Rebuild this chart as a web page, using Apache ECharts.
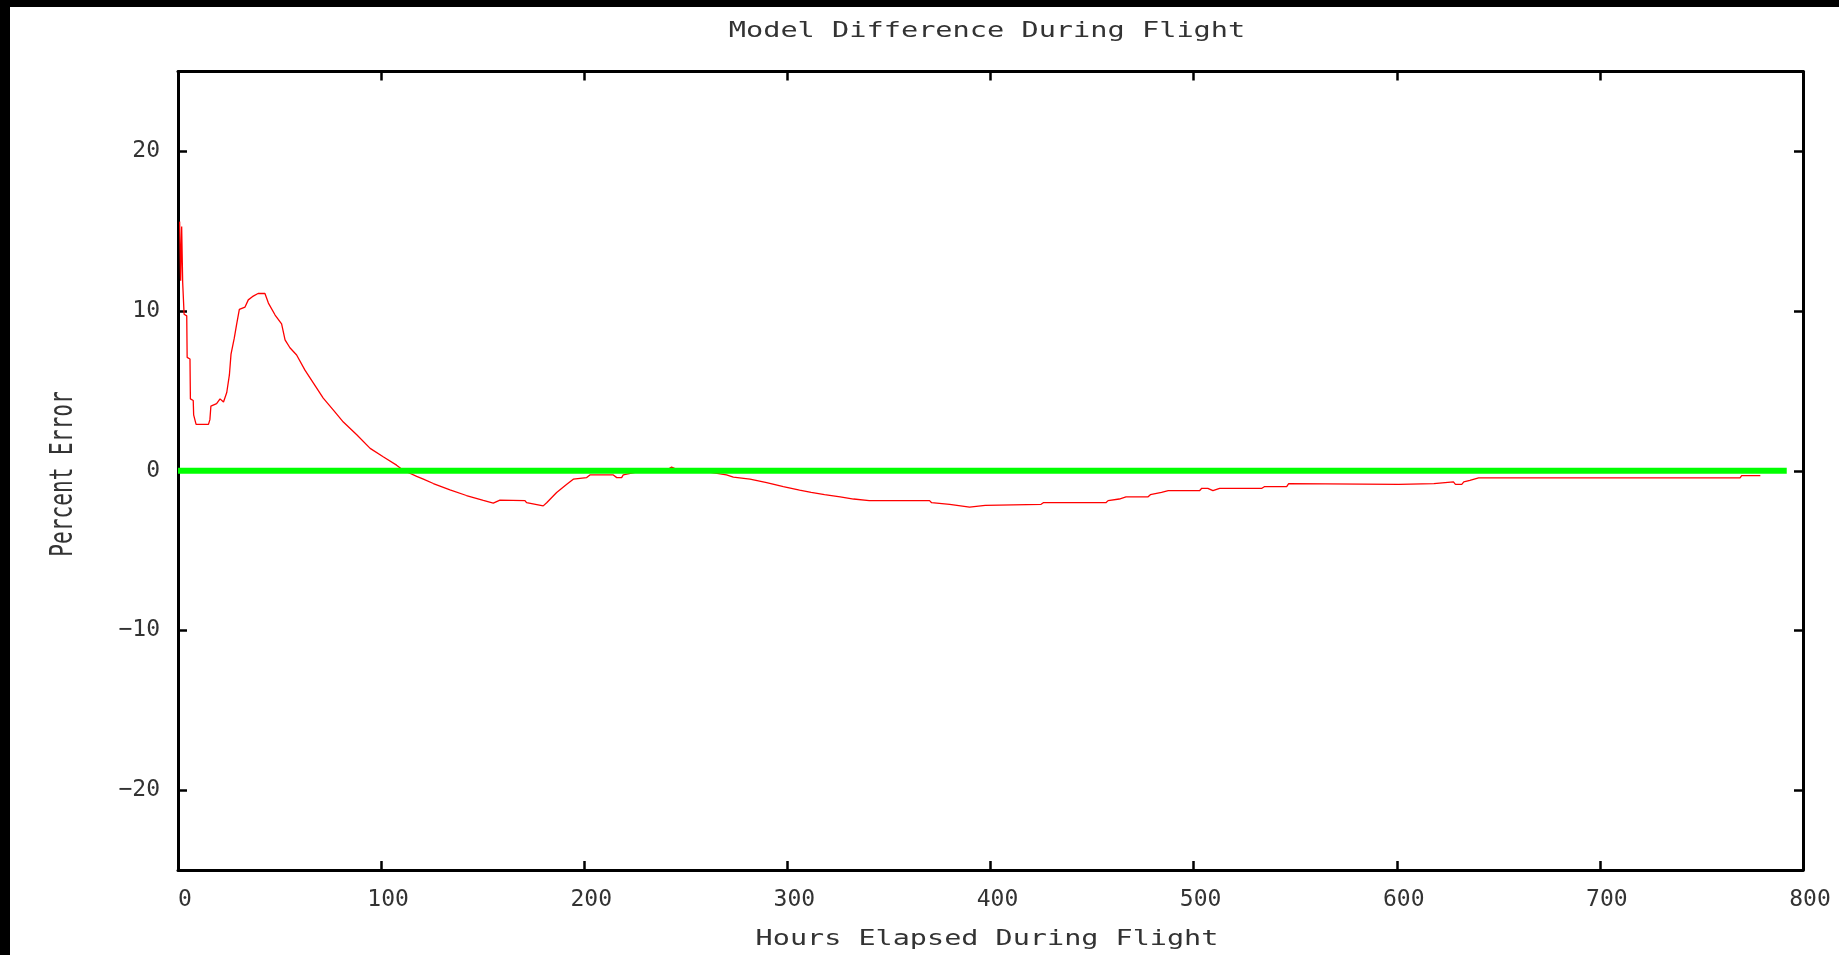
<!DOCTYPE html>
<html>
<head>
<meta charset="utf-8">
<script src="https://cdn.jsdelivr.net/npm/echarts@6/dist/echarts.min.js"></script>
<style>
html, body { margin: 0; padding: 0; background: #000; width: 1839px; height: 955px; overflow: hidden; }
#chart { position: absolute; left: 10px; top: 7px; width: 1829px; height: 948px; background: #fff; }
</style>
</head>
<body>
<div id="chart"></div>
<script>
// ---- data ----
const titleText = 'Model Difference During Flight';
const xAxisName = 'Hours Elapsed During Flight';
const yAxisName = 'Percent Error';
const xTicks = [0, 100, 200, 300, 400, 500, 600, 700, 800];
const yTicks = [-20, -10, 0, 10, 20];

// hours elapsed
const hours = [
  0.8, 1.3, 1.8, 2.3, 2.7, 3.0, 4.3, 4.5, 5.9, 6.1, 7.5, 7.7, 8.9, 15, 15.7, 16.2, 19, 20.7, 22.4, 24,
  25.3, 26.1, 27.7, 28.9, 30.2, 33, 34.6, 36.6, 39.4, 42.8, 44.5, 47.8, 51, 52.7, 55.1, 58.4, 62.5, 66.6, 71.5, 76.5,
  81.4, 88, 94.6, 101, 107.6, 110.9, 117.5, 120.8, 125.7, 133.9, 142, 150.3, 155.2, 158.5, 170.8, 171.6, 179.8, 181.5, 186.4, 191.4,
  194.6, 201.2, 202.8, 214.3, 216, 218.4, 219.2, 225, 240, 243, 246, 260, 270, 273.4, 281.6, 289.8, 298, 306, 311.7, 318.3,
  326, 332.6, 340.3, 370, 371, 379.9, 389.7, 397.4, 424.9, 426, 456.8, 457.9, 463.4, 466.7, 477.6, 478.7, 484.2, 487.5, 502.9, 504,
  507, 509.5, 512.8, 533.6, 534.8, 545.8, 546.8, 601, 618.3, 619, 627.9, 628.9, 632, 633, 636, 640.3, 769, 769.8, 779
];
// percent error (model difference)
const percentError = [
  15.6, 11.9, 15.3, 11.8, 11.7, 9.8, 9.7, 7.1, 7.0, 4.5, 4.4, 3.5, 2.9, 2.9, 3.2, 4.05, 4.2, 4.5, 4.3, 4.9,
  6.0, 7.3, 8.3, 9.2, 10.1, 10.25, 10.7, 10.9, 11.1, 11.1, 10.5, 9.75, 9.2, 8.2, 7.7, 7.25, 6.3, 5.5, 4.55, 3.8,
  3.05, 2.25, 1.4, 0.88, 0.35, 0.03, -0.35, -0.53, -0.8, -1.2, -1.55, -1.86, -2.03, -1.84, -1.87, -2.0, -2.2, -2.0, -1.36, -0.85,
  -0.53, -0.43, -0.26, -0.26, -0.43, -0.43, -0.26, -0.1, 0, 0.23, 0.05, -0.05, -0.26, -0.4, -0.53, -0.75, -1.0, -1.22, -1.36, -1.5,
  -1.63, -1.77, -1.87, -1.87, -2.0, -2.1, -2.28, -2.17, -2.1, -2.0, -2.0, -1.87, -1.77, -1.63, -1.63, -1.5, -1.36, -1.25, -1.25, -1.1,
  -1.1, -1.25, -1.1, -1.1, -1.0, -1.0, -0.81, -0.85, -0.81, -0.7, -0.7, -0.85, -0.85, -0.7, -0.6, -0.45, -0.45, -0.3, -0.3
];
// zero reference line
const zeroLineX = [0, 792];
const zeroLineY = [0, 0];

// ---- chart ----
const font = '"DejaVu Sans Mono", "Liberation Mono", monospace';
const textColor = '#333';
const chart = echarts.init(document.getElementById('chart'));

const axisLineStyle = { color: '#000', width: 3 };
const tickStyle = { color: '#000', width: 2.5 };
const fmtNum = v => (v < 0 ? '\u2212' + Math.abs(v) : String(v));

const option = {
  animation: false,
  backgroundColor: '#fff',
  grid: { left: 168, right: 36, top: 64.5, bottom: 85, containLabel: false },
  xAxis: [
    {
      type: 'value', min: 0, max: 800, interval: 100, position: 'bottom',
      axisLine: { show: true, onZero: false, lineStyle: axisLineStyle },
      axisTick: { show: true, inside: true, length: 9, lineStyle: tickStyle, customValues: xTicks },
      axisLabel: { show: true, customValues: xTicks, formatter: fmtNum, fontFamily: font, fontSize: 23, color: textColor, margin: 19, padding: [0, 0, 0, 14] },
      splitLine: { show: false }
    },
    {
      type: 'value', min: 0, max: 800, interval: 100, position: 'top',
      axisLine: { show: true, onZero: false, lineStyle: axisLineStyle },
      axisTick: { show: true, inside: true, length: 9, lineStyle: tickStyle, customValues: xTicks },
      axisLabel: { show: false },
      splitLine: { show: false }
    }
  ],
  yAxis: [
    {
      type: 'value', min: -25, max: 25, interval: 5, position: 'left',
      axisLine: { show: true, onZero: false, lineStyle: axisLineStyle },
      axisTick: { show: true, inside: true, length: 9, lineStyle: tickStyle, customValues: yTicks },
      axisLabel: { show: true, customValues: yTicks, formatter: fmtNum, fontFamily: font, fontSize: 23, color: textColor, margin: 18 },
      splitLine: { show: false }
    },
    {
      type: 'value', min: -25, max: 25, interval: 5, position: 'right',
      axisLine: { show: true, onZero: false, lineStyle: axisLineStyle },
      axisTick: { show: true, inside: true, length: 9, lineStyle: tickStyle, customValues: yTicks },
      axisLabel: { show: false },
      splitLine: { show: false }
    }
  ],
  graphic: [
    {
      type: 'text', x: 977, y: 24, scaleX: 1.3, scaleY: 1,
      style: { text: titleText, font: '22px ' + font, fill: textColor, align: 'center', verticalAlign: 'middle', textAlign: 'center', textVerticalAlign: 'middle' }
    },
    {
      type: 'text', x: 977, y: 932, scaleX: 1.294, scaleY: 1,
      style: { text: xAxisName, font: '22px ' + font, fill: textColor, align: 'center', verticalAlign: 'middle', textAlign: 'center', textVerticalAlign: 'middle' }
    },
    {
      type: 'text', x: 54, y: 467, rotation: Math.PI / 2, scaleX: 0.96, scaleY: 1.45,
      style: { text: yAxisName, font: '22px ' + font, fill: textColor, align: 'center', verticalAlign: 'middle', textAlign: 'center', textVerticalAlign: 'middle' }
    }
  ],
  series: [
    {
      name: 'Model Difference', type: 'line', xAxisIndex: 0, yAxisIndex: 0,
      data: hours.map((h, i) => [h, percentError[i]]),
      showSymbol: false, symbol: 'none', smooth: false,
      lineStyle: { color: '#ff0000', width: 1.3 },
      z: 2
    },
    {
      name: 'Zero', type: 'line', xAxisIndex: 0, yAxisIndex: 0,
      data: zeroLineX.map((x, i) => [x, zeroLineY[i]]),
      showSymbol: false, symbol: 'none',
      lineStyle: { color: '#00ff00', width: 6 },
      z: 3
    }
  ]
};
chart.setOption(option);
</script>
</body>
</html>
